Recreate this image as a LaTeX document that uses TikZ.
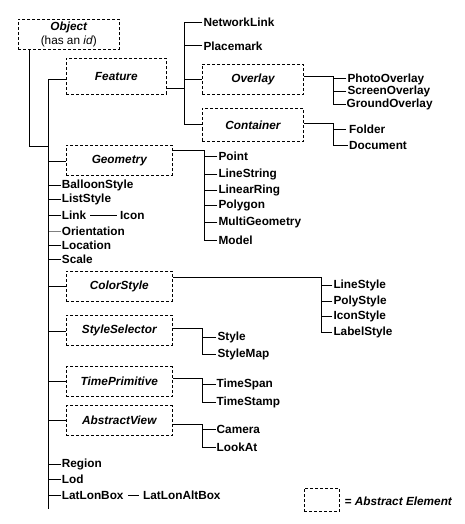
\documentclass[tikz,border=0pt]{standalone}
\usepackage{fontspec}
\setmainfont{Liberation Sans}
\usetikzlibrary{positioning}

\begin{document}
\begin{tikzpicture}[x=1pt, y=-1pt,
    abstract/.style={draw=black, dash pattern=on 3pt off 2pt, line width=0.9pt, minimum width=106pt, minimum height=30pt, inner sep=0pt, font=\fontsize{11.8}{14}\selectfont\bfseries\itshape},
    leaf/.style={anchor=west, inner sep=1pt, font=\fontsize{11.8}{14}\selectfont\bfseries},
    link/.style={draw=black, line width=1pt}
]
    \useasboundingbox (0,0) rectangle (464,524);

    % abstract elements
    \node [abstract, minimum width=101pt, align=center] (object) at (68.8,34.3) {Object\\{\mdseries\upshape (has an \textit{id})}};
    \node [abstract, minimum width=100pt, minimum height=36pt] (feature) at (116.3,76.3) {Feature};
    \node [abstract, minimum width=101.4pt] (overlay) at (253,79.3) {Overlay};
    \node [abstract, minimum width=101.4pt, minimum height=33pt] (container) at (253,124.8) {Container};
    \node [abstract] (geometry) at (119.3,160.3) {Geometry};
    \node [abstract] (colorstyle) at (119.3,286.2) {ColorStyle};
    \node [abstract] (styleselector) at (119.3,330.2) {StyleSelector};
    \node [abstract] (timeprimitive) at (119.3,381.7) {TimePrimitive};
    \node [abstract] (abstractview) at (119.3,420.7) {AbstractView};

    % bus lines
    \coordinate (trunk) at (48.5,79.3);
    \coordinate (trunkend) at (48.5,509.3);
    \coordinate (objfoot) at (48.5,146.7);
    \coordinate (fbus) at (184.3,88.3);
    \coordinate (obus) at (333,0);
    \coordinate (gbus) at (204.3,0);
    \coordinate (cbus) at (321,0);
    \coordinate (sbus) at (202.7,0);

    % feature children
    \node [leaf] (networklink) at (202.3,22.7) {NetworkLink};
    \node [leaf] (placemark) at (202.3,46) {Placemark};
    \node [leaf] (photooverlay) at (346.3,79) {PhotoOverlay};
    \node [leaf] (screenoverlay) at (346.3,91.7) {ScreenOverlay};
    \node [leaf] (groundoverlay) at (345.5,104.7) {GroundOverlay};
    \node [leaf] (folder) at (348,129.7) {Folder};
    \node [leaf] (document) at (348,145.7) {Document};

    % geometry children
    \node [leaf] (point) at (217.3,156.7) {Point};
    \node [leaf] (linestring) at (217.3,174.5) {LineString};
    \node [leaf] (linearring) at (217.3,190) {LinearRing};
    \node [leaf] (polygon) at (217.3,205.7) {Polygon};
    \node [leaf] (multigeometry) at (217.3,222.7) {MultiGeometry};
    \node [leaf] (model) at (217.3,240) {Model};

    % leaves on the trunk
    \node [leaf] (balloonstyle) at (60.7,185) {BalloonStyle};
    \node [leaf] (liststyle) at (60.7,199.7) {ListStyle};
    \node [leaf] (link) at (60.7,215.3) {Link};
    \node [leaf] (icon) at (119,215.3) {Icon};
    \node [leaf] (orientation) at (60.7,231.7) {Orientation};
    \node [leaf] (location) at (60.7,245.7) {Location};
    \node [leaf] (scale) at (60.7,259.7) {Scale};
    \node [leaf] (region) at (60.7,464.7) {Region};
    \node [leaf] (lod) at (60.7,479.3) {Lod};
    \node [leaf] (latlonbox) at (60.7,495.3) {LatLonBox};
    \node [leaf] (latlonaltbox) at (142,495.3) {LatLonAltBox};

    % style children
    \node [leaf] (linestyle) at (332.3,285.7) {LineStyle};
    \node [leaf] (polystyle) at (332.3,301.7) {PolyStyle};
    \node [leaf] (iconstyle) at (332.3,316.7) {IconStyle};
    \node [leaf] (labelstyle) at (332.3,332.3) {LabelStyle};
    \node [leaf] (style) at (216.3,337.7) {Style};
    \node [leaf] (stylemap) at (216.3,354.5) {StyleMap};
    \node [leaf] (timespan) at (215.5,384.3) {TimeSpan};
    \node [leaf] (timestamp) at (215.5,402.3) {TimeStamp};
    \node [leaf] (camera) at (215.5,429.3) {Camera};
    \node [leaf] (lookat) at (215.5,447.7) {LookAt};

    % legend
    \node [abstract, minimum width=35.3pt, minimum height=23.4pt] (legend) at (321.7,500) {};
    \node [leaf, font=\fontsize{11.8}{14}\selectfont\bfseries\itshape] (legendtext) at (343.5,501) {= Abstract Element};

    % trunk
    \draw [link] ([xshift=12pt]object.south west) |- (objfoot);
    \draw [link] (trunk) -- (trunkend);
    \draw [link] ([yshift=-3pt]feature.west) -- (trunk);
    \draw [link] ([yshift=-1pt]geometry.west) -- ([yshift=-1pt]geometry.west -| trunk);
    \draw [link] (colorstyle.west) -- (colorstyle.west -| trunk);
    \draw [link] ([yshift=-1.5pt]styleselector.west) -- ([yshift=-1.5pt]styleselector.west -| trunk);
    \draw [link] (timeprimitive.west) -- (timeprimitive.west -| trunk);
    \draw [link] (abstractview.west) -- (abstractview.west -| trunk);
    \draw [link] (balloonstyle.west) -- (balloonstyle.west -| trunk);
    \draw [link] (liststyle.west) -- (liststyle.west -| trunk);
    \draw [link] (link.west) -- (link.west -| trunk);
    \draw [link, draw=gray] (orientation.west) -- (orientation.west -| trunk);
    \draw [link] (location.west) -- (location.west -| trunk);
    \draw [link] (scale.west) -- (scale.west -| trunk);
    \draw [link] (region.west) -- (region.west -| trunk);
    \draw [link] (lod.west) -- (lod.west -| trunk);
    \draw [link] (latlonbox.west) -- (latlonbox.west -| trunk);
    \draw [link, shorten <=3pt, shorten >=2pt] (link) -- (icon);
    \draw [link, shorten <=3.5pt, shorten >=3pt] (latlonbox) -- (latlonaltbox);

    % feature branch
    \draw [link] ([yshift=-12pt]feature.east) -- (fbus);
    \draw [link] (networklink.west) -| (fbus);
    \draw [link] (container.west) -| (fbus);
    \draw [link] (placemark.west) -- (placemark.west -| fbus);
    \draw [link] (overlay.west) -- (overlay.west -| fbus);
    \draw [link] ([yshift=2.6pt]overlay.east) -| (obus |- groundoverlay.west) -- (groundoverlay.west);
    \draw [link] (photooverlay.west) -- (photooverlay.west -| obus);
    \draw [link] (screenoverlay.west) -- (screenoverlay.west -| obus);
    \draw [link] ([yshift=1pt]container.east) -| (obus |- document.west) -- (document.west);
    \draw [link] ([xshift=-2pt]folder.west) -- (folder.west -| obus);

    % geometry branch
    \draw [link] ([yshift=10pt]geometry.east) -| (gbus |- model.west) -- (model.west);
    \draw [link] (point.west) -- (point.west -| gbus);
    \draw [link] (linestring.west) -- (linestring.west -| gbus);
    \draw [link] (linearring.west) -- (linearring.west -| gbus);
    \draw [link] (polygon.west) -- (polygon.west -| gbus);
    \draw [link] (multigeometry.west) -- (multigeometry.west -| gbus);

    % style branches
    \draw [link] ([yshift=9pt]colorstyle.east) -| (cbus |- labelstyle.west) -- (labelstyle.west);
    \draw [link] (linestyle.west) -- (linestyle.west -| cbus);
    \draw [link] (polystyle.west) -- (polystyle.west -| cbus);
    \draw [link] (iconstyle.west) -- (iconstyle.west -| cbus);
    \draw [link] ([yshift=2pt]styleselector.east) -| (sbus |- stylemap.west) -- (stylemap.west);
    \draw [link] (style.west) -- (style.west -| sbus);
    \draw [link] ([yshift=3pt]timeprimitive.east) -| (sbus |- timestamp.west) -- (timestamp.west);
    \draw [link] (timespan.west) -- (timespan.west -| sbus);
    \draw [link] ([yshift=-4pt]abstractview.east) -| (sbus |- lookat.west) -- (lookat.west);
    \draw [link] (camera.west) -- (camera.west -| sbus);
\end{tikzpicture}
\end{document}
